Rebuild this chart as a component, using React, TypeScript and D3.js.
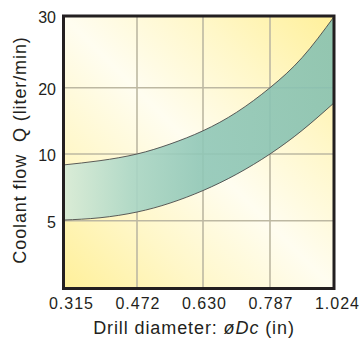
import React from "react";
import * as d3 from "d3";

// ---- data ----
const xTicks = [0.315, 0.472, 0.63, 0.787, 1.024];
const xTickLabels = ["0.315", "0.472", "0.630", "0.787", "1.024"];
const yFloor = 2.5; // unlabeled bottom of the chart
const yTicks = [5, 10, 20, 30];
const yTickLabels = ["5", "10", "20", "30"];

const diameters = [0.315, 0.393, 0.472, 0.551, 0.63, 0.709, 0.787, 0.906, 1.024];
const upperFlow = [9.18, 9.5, 10, 11.5, 13.5, 16.3, 20, 24.2, 29.9];
const lowerFlow = [5.05, 5.22, 5.65, 6.32, 7.26, 8.49, 10, 13.56, 17.71];

const W = 359;
const H = 341;
const FONT = "'Liberation Sans', Arial, Helvetica, sans-serif";
const INK = "#231f20";

export default function App() {
  const left = 63.5, right = 334, top = 16, bottom = 288.5;
  const x = d3
    .scaleLinear()
    .domain(xTicks)
    .range([left, 137, 203, 270, right]);
  const y = d3
    .scaleLinear()
    .domain([yFloor, ...yTicks])
    .range([bottom, 220.7, 154, 87.7, top]);
  const xLabel = d3.scaleLinear().domain([0, xTicks.length - 1]).range([71, 337]);

  const upper = diameters.map((d, i) => [x(d), y(upperFlow[i])] as [number, number]);
  const lower = diameters.map((d, i) => [x(d), y(lowerFlow[i])] as [number, number]);

  const line = d3.line().curve(d3.curveNatural);
  const upperPath = line(upper) as string;
  const lowerPath = line(lower) as string;
  const lowerRev = line([...lower].reverse()) as string;
  const bandPath = upperPath + "L" + lowerRev.slice(1) + "Z";

  return (
    <svg
      width={W}
      height={H}
      style={{ position: "absolute", left: 0, top: 0, background: "#fff" }}
      fontFamily={FONT}
    >
      <defs>
        <linearGradient id="bg" x1="0" y1="1" x2="1" y2="0">
          <stop offset="0%" stopColor="#fff09a" />
          <stop offset="25%" stopColor="#fff7c8" />
          <stop offset="50%" stopColor="#fffdf0" />
          <stop offset="75%" stopColor="#fff7c8" />
          <stop offset="100%" stopColor="#fff09a" />
        </linearGradient>
        <linearGradient id="band" x1={left} x2={right} y1="0" y2="0" gradientUnits="userSpaceOnUse">
          <stop offset="0%" stopColor="#d6ebd9" />
          <stop offset="25%" stopColor="#aad6c6" />
          <stop offset="50%" stopColor="#90c7b7" />
          <stop offset="100%" stopColor="#87c1b1" />
        </linearGradient>
      </defs>

      <rect x={left} y={top} width={right - left} height={bottom - top} fill="url(#bg)" />

      {/* grid */}
      {xTicks.slice(1, -1).map((t) => (
        <line key={"gx" + t} x1={x(t)} x2={x(t)} y1={top} y2={bottom} stroke="#bdb8a2" strokeWidth={1.6} />
      ))}
      {yTicks.slice(0, -1).map((t) => (
        <line key={"gy" + t} x1={left} x2={right} y1={y(t)} y2={y(t)} stroke="#bdb8a2" strokeWidth={1.6} />
      ))}

      {/* band */}
      <path d={bandPath} fill="url(#band)" opacity={0.9} />
      <path d={upperPath} fill="none" stroke="#4a4a4a" strokeWidth={0.9} />
      <path d={lowerPath} fill="none" stroke="#4a4a4a" strokeWidth={0.9} />

      {/* frame */}
      <rect x={left} y={top} width={right - left} height={bottom - top} fill="none" stroke={INK} strokeWidth={3} />

      {/* y ticks */}
      {yTicks.map((t, i) => (
        <text key={"yl" + t} x={56} y={y(t) + 1.5} textAnchor="end" dominantBaseline="central" fontSize={16} fill={INK}>
          {yTickLabels[i]}
        </text>
      ))}

      {/* x ticks */}
      {xTicks.map((t, i) => (
        <text key={"xl" + t} x={xLabel(i) + 0.5} y={308.5} textAnchor="middle" fontSize={16} letterSpacing={1} fill={INK}>
          {xTickLabels[i]}
        </text>
      ))}

      {/* axis titles */}
      <text x={194} y={333.5} textAnchor="middle" fontSize={18} letterSpacing={0.9} fill={INK}>
        Drill diameter: <tspan fontStyle="italic">øDc</tspan> (in)
      </text>
      <text
        transform="translate(25.5,150) rotate(-90)"
        textAnchor="middle"
        fontSize={18}
        letterSpacing={0.9}
        fill={INK}
        style={{ whiteSpace: "pre" }}
      >
        {"Coolant flow  Q (liter/min)"}
      </text>
    </svg>
  );
}
